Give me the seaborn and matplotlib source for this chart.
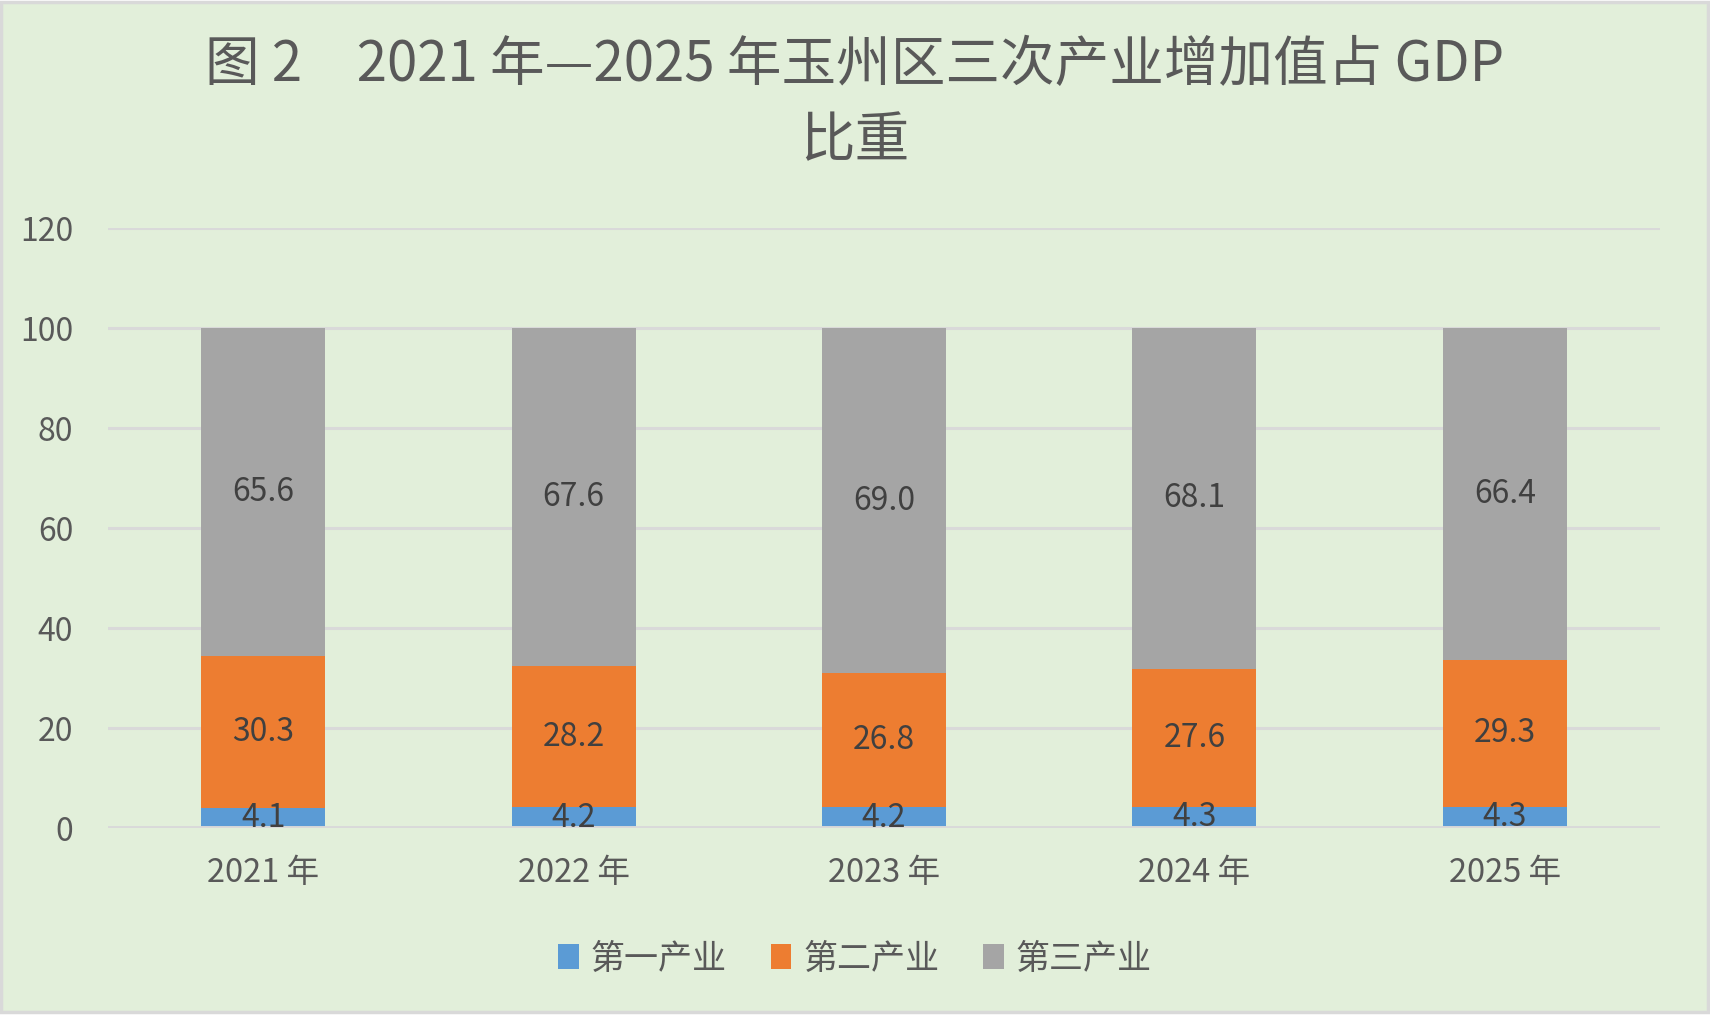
import matplotlib
matplotlib.use("Agg")
import matplotlib.pyplot as plt
import numpy as np
import pandas as pd
import seaborn as sns
from matplotlib.patches import Patch, Rectangle

years = ["2021 年", "2022 年", "2023 年", "2024 年", "2025 年"]
primary = [4.1, 4.2, 4.2, 4.3, 4.3]
secondary = [30.3, 28.2, 26.8, 27.6, 29.3]
tertiary = [65.6, 67.6, 69.0, 68.1, 66.4]
series_names = ["第一产业", "第二产业", "第三产业"]
y_ticks = [0, 20, 40, 60, 80, 100, 120]

colors = ["#5B9BD5", "#ED7D31", "#A5A5A5"]
text_gray = "#595959"
label_gray = "#404040"
bg = "#E2EFDA"
grid = "#D9D9D9"

sns.set_theme(style="white")
plt.rcParams["font.family"] = ["Noto Sans CJK SC", "DejaVu Sans"]

df = pd.DataFrame({"year": years, "p1": primary, "p2": secondary, "p3": tertiary})
df["c1"] = df["p1"]
df["c2"] = df["p1"] + df["p2"]
df["c3"] = df["c2"] + df["p3"]

fig = plt.figure(figsize=(17.1, 10.21), dpi=100)
fig.patch.set_facecolor("white")
fig.patches.append(Rectangle((1 / 1710, 9 / 1021), 1707 / 1710, 1010 / 1021,
                             transform=fig.transFigure, facecolor=bg,
                             edgecolor=grid, linewidth=2.5, zorder=-10))

ax = fig.add_axes([108 / 1710, 1 - 828 / 1021, (1660 - 108) / 1710, 600 / 1021])
ax.set_facecolor("none")

# stacked bars drawn as overlapping cumulative totals
for col, c in zip(["c3", "c2", "c1"], colors[::-1]):
    sns.barplot(data=df, x="year", y=col, color=c, width=0.4, saturation=1,
                linewidth=0, edgecolor="none", ax=ax, zorder=3)

for i in range(len(years)):
    bottoms = [0, df["c1"][i], df["c2"][i]]
    vals = [primary[i], secondary[i], tertiary[i]]
    for b, v in zip(bottoms, vals):
        ax.text(i, b + v / 2, f"{v:.1f}", ha="center", va="center",
                fontsize=23, color=label_gray, zorder=5)

ax.set_ylim(0, 120)
ax.set_xlim(-0.5, len(years) - 0.5)
ax.set_yticks(y_ticks)
for t in y_ticks[1:]:
    ax.axhline(t, color=grid, lw=2.2, zorder=1)
ax.axhline(0, color=grid, lw=2.8, zorder=4)
for s in ax.spines.values():
    s.set_visible(False)
ax.tick_params(axis="y", length=0, pad=25, labelsize=23, labelcolor=text_gray)
ax.tick_params(axis="x", length=0, pad=21, labelsize=23.5, labelcolor=text_gray)
ax.set_xlabel("")
ax.set_ylabel("")

fig.text(0.5, 1 - 103 / 1021, "图 2　2021 年—2025 年玉州区三次产业增加值占 GDP\n比重",
         ha="center", va="center", fontsize=39.3, color=text_gray, linespacing=1.42)

handles = [Patch(facecolor=c, edgecolor="none") for c in colors]
fig.legend(handles, series_names, loc="center", bbox_to_anchor=(0.5, 1 - 959 / 1021),
           ncol=3, frameon=False, fontsize=24.5, labelcolor=text_gray,
           handlelength=0.6, handleheight=0.75, handletextpad=0.35, columnspacing=1.3)

fig.savefig("out.png", dpi=100, facecolor=fig.get_facecolor())
